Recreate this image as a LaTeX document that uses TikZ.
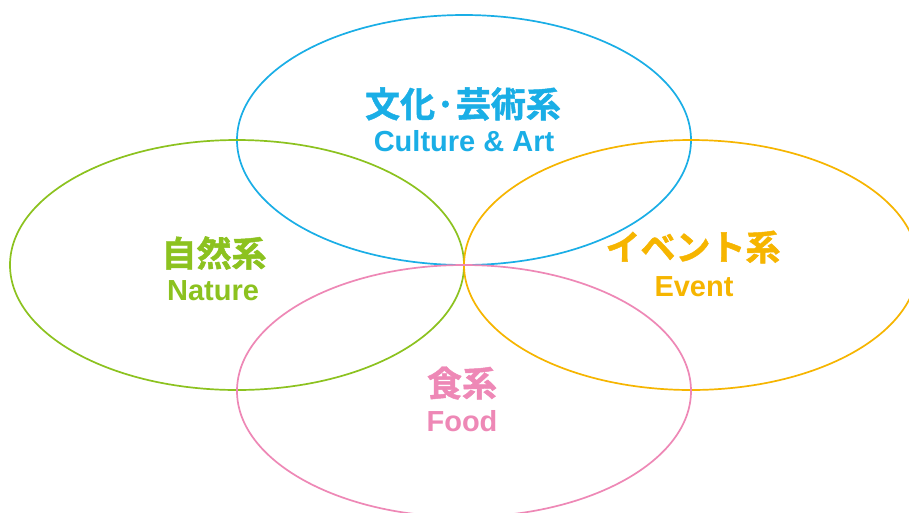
\documentclass[tikz,border=0pt]{standalone}
\usepackage{fontspec}
\setmainfont{Liberation Sans}
\newfontfamily\jpfont{Noto Sans CJK JP}[BoldFont={Noto Sans CJK JP Bold},BoldFeatures={FakeBold=1.3}]
\definecolor{cblue}{HTML}{1AAEE6}
\definecolor{cgreen}{HTML}{8CC21F}
\definecolor{corange}{HTML}{F6B500}
\definecolor{cpink}{HTML}{EE88B6}
\tikzset{
  ring/.style={line width=1.7pt},
  jptext/.style={font=\jpfont\bfseries\fontsize{35}{38}\selectfont, inner sep=0pt, anchor=center},
  entext/.style={font=\bfseries\fontsize{29}{31}\selectfont, inner sep=0pt, anchor=center},
}
\begin{document}
\begin{tikzpicture}[x=1pt,y=-1pt]
\useasboundingbox (0,0) rectangle (909,512);
\fill[white] (0,0) rectangle (909,512);
\coordinate (ctop) at (464,140);
\coordinate (cleft) at (237,265);
\coordinate (cright) at (691,265);
\coordinate (cbot) at (464,391);
\begin{scope}
\clip (0,0) rectangle (909,512);
\draw[ring, cblue] (ctop) ellipse [x radius=227, y radius=125];
\draw[ring, cgreen] (cleft) ellipse [x radius=227, y radius=125];
\draw[ring, corange] (cright) ellipse [x radius=227, y radius=125];
\draw[ring, cpink] (cbot) ellipse [x radius=227, y radius=126];
\end{scope}
\node[jptext, text=cblue] (tj) at (463,104) {文化·芸術系};
\node[entext, text=cblue] (te) at (464,141) {Culture \& Art};
\node[jptext, text=cgreen] (lj) at (214,253) {自然系};
\node[entext, text=cgreen] (le) at (213,291) {Nature};
\node[jptext, text=corange] (rj) at (693,247) {イベント系};
\node[entext, text=corange] (re) at (694,287) {Event};
\node[jptext, text=cpink] (bj) at (462,383) {食系};
\node[entext, text=cpink] (be) at (462,421) {Food};
\end{tikzpicture}
\end{document}
